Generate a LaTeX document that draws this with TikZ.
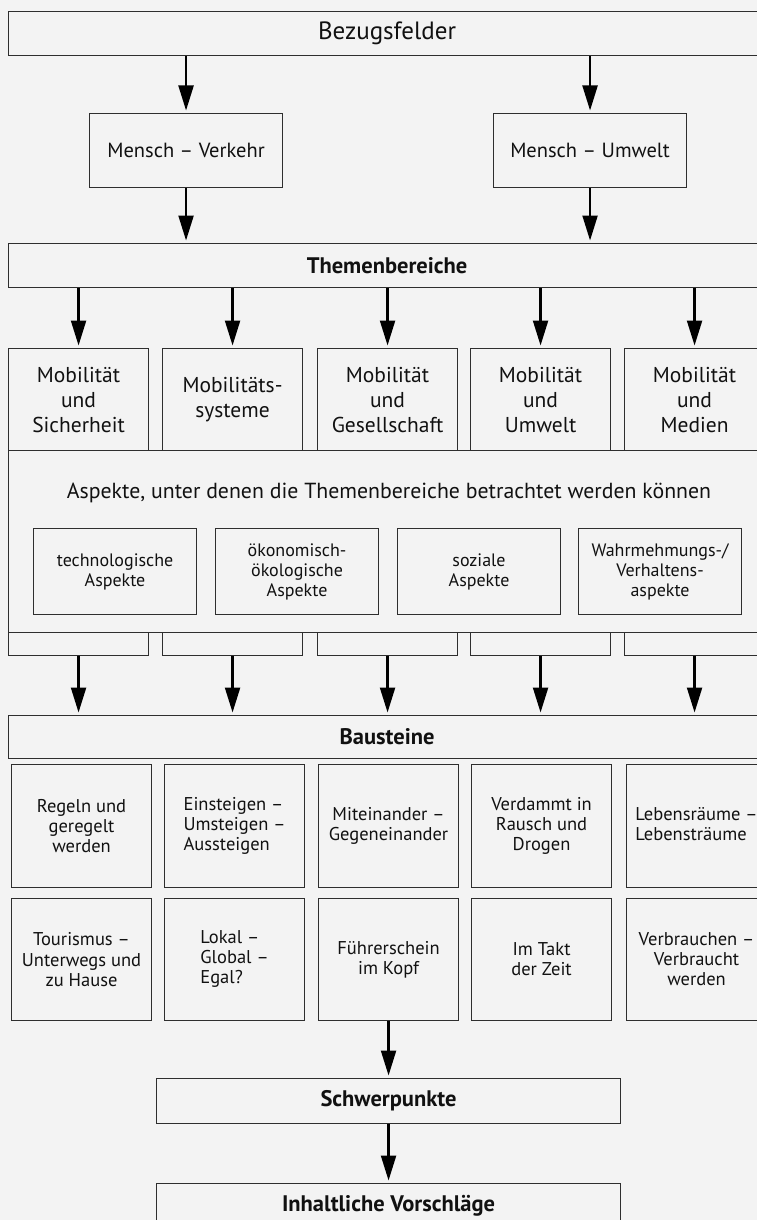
\documentclass[tikz,border=0pt]{standalone}
\usepackage{fontspec}
\setmainfont{PT Sans}
\usetikzlibrary{arrows.meta}
\definecolor{bg}{HTML}{F3F3F3}
\definecolor{ln}{HTML}{2E2E2E}
\definecolor{tx}{HTML}{111111}
\begin{document}
\begin{tikzpicture}[x=1pt,y=-1pt,
  bx/.style={draw=ln, line width=1.1pt, anchor=north west, inner sep=0pt, align=center, text=tx},
  wide/.style={bx, minimum width=757pt, minimum height=44pt},
  themen/.style={bx, minimum width=140pt, minimum height=102pt, font=\fontsize{21.5}{25}\selectfont},
  tabbox/.style={bx, minimum width=140pt, minimum height=23pt},
  asp/.style={bx, minimum width=163pt, minimum height=86pt, font=\fontsize{18}{20}\selectfont},
  bst/.style={bx, minimum width=140pt, minimum height=123pt, font=\fontsize{18.5}{20}\selectfont},
  boldtitle/.style={font=\fontsize{22.5}{26}\selectfont\bfseries},
  mid/.style={bx, boldtitle, minimum width=464pt, minimum height=45pt},
  arr/.style={draw=black, line width=2.2pt, -{Triangle[width=15pt,length=25pt]}, shorten >=2.5pt}]
\fill[bg] (0,0) rectangle (757,1220);
\useasboundingbox (0,0) rectangle (757,1220);

% Bezugsfelder
\node[wide, font=\fontsize{25}{28}\selectfont] (bez) at (8,11) {Bezugsfelder};
\node[bx, minimum width=193pt, minimum height=74pt, font=\fontsize{20.5}{24}\selectfont] (mv) at (89,113) {Mensch – Verkehr};
\node[bx, minimum width=193pt, minimum height=74pt, font=\fontsize{20.5}{24}\selectfont] (mu) at (493,113) {Mensch – Umwelt};

% Themenbereiche
\node[wide, minimum height=44pt, boldtitle] (them) at (8,243) {Themenbereiche};

\node[themen] (t1) at (8,348)   {Mobilität\\und\\Sicherheit};
\node[themen] (t2) at (162,348) {Mobilitäts-\\systeme};
\node[themen] (t3) at (317,348) {Mobilität\\und\\Gesellschaft};
\node[themen] (t4) at (470,348) {Mobilität\\und\\Umwelt};
\node[themen] (t5) at (624,348) {Mobilität\\und\\Medien};

% Aspekte
\node[bx, minimum width=757pt, minimum height=182pt] (aspall) at (8,450) {};
\node[text=tx, font=\fontsize{21.8}{25}\selectfont, inner sep=0pt] (asph) at (389,493) {Aspekte, unter denen die Themenbereiche betrachtet werden können};
\node[asp] (a1) at (33,528)  {technologische\\Aspekte};
\node[asp] (a2) at (215,528) {ökonomisch-\\ökologische\\Aspekte};
\node[asp] (a3) at (397,528) {soziale\\Aspekte};
\node[asp] (a4) at (578,528) {Wahrmehmungs-/\\Verhaltens-\\aspekte};

\node[tabbox] (b1) at (8,632)   {};
\node[tabbox] (b2) at (162,632) {};
\node[tabbox] (b3) at (317,632) {};
\node[tabbox] (b4) at (470,632) {};
\node[tabbox] (b5) at (624,632) {};

% Bausteine
\node[wide, minimum height=43pt, boldtitle] (baus) at (8,715) {Bausteine};

\node[bst] (r11) at (11,764)  {Regeln und\\geregelt\\werden};
\node[bst] (r12) at (164,764) {\begin{tabular}{@{}l@{}}Einsteigen –\\Umsteigen –\\Aussteigen\end{tabular}};
\node[bst] (r13) at (318,764) {Miteinander –\\Gegeneinander};
\node[bst] (r14) at (471,764) {Verdammt in\\Rausch und\\Drogen};
\node[bst] (r15) at (626,764) {\begin{tabular}{@{}l@{}}Lebensräume –\\Lebensträume\end{tabular}};

\node[bst, minimum height=122pt] (r21) at (11,898)  {Tourismus –\\Unterwegs und\\zu Hause};
\node[bst, minimum height=122pt] (r22) at (164,898) {\begin{tabular}{@{}l@{}}Lokal –\\Global –\\Egal?\end{tabular}};
\node[bst, minimum height=122pt] (r23) at (318,898) {Führerschein\\im Kopf};
\node[bst, minimum height=122pt] (r24) at (471,898) {Im Takt\\der Zeit};
\node[bst, minimum height=122pt] (r25) at (626,898) {Verbrauchen –\\Verbraucht\\werden};

% Schwerpunkte
\node[mid] (schw) at (156,1078) {Schwerpunkte};
\node[mid] (inh) at (156,1183) {Inhaltliche Vorschläge};

% Arrows
\draw[arr] (bez.south -| mv.north) -- (mv.north);
\draw[arr] (bez.south -| mu.north) -- (mu.north);
\draw[arr] (mv.south) -- (mv.south |- them.north);
\draw[arr] (mu.south) -- (mu.south |- them.north);
\foreach \t in {t1,t2,t3,t4,t5}{
  \draw[arr] (them.south -| \t.north) -- (\t.north);
}
\foreach \t in {b1,b2,b3,b4,b5}{
  \draw[arr] (\t.south) -- (\t.south |- baus.north);
}
\draw[arr] (r23.south) -- (schw.north);
\draw[arr] (schw.south) -- (inh.north);
\end{tikzpicture}
\end{document}
